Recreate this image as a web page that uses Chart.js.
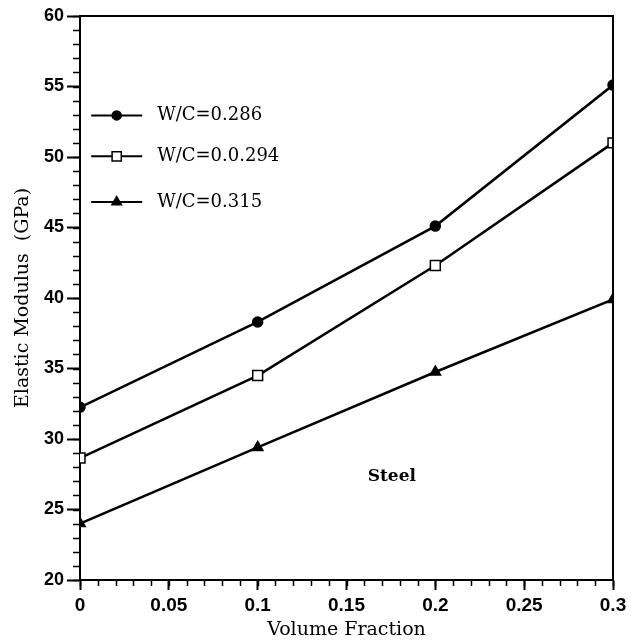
<!DOCTYPE html>
<html>
<head>
<meta charset="utf-8">
<script src="https://cdn.jsdelivr.net/npm/chart.js@4"></script>
<style>
  html, body { margin: 0; padding: 0; background: #fff; }
  #wrap { width: 640px; height: 644px; position: relative; }
</style>
</head>
<body>
<div id="wrap"><canvas id="c" width="640" height="644"></canvas></div>
<script>
// ---- data ----
const volumeFraction = [0, 0.1, 0.2, 0.3];
const seriesLabels = ['W/C=0.286', 'W/C=0.0.294', 'W/C=0.315'];
const wc0286 = [32.25, 38.3, 45.1, 55.1];
const wc0294 = [28.65, 34.5, 42.3, 51.0];
const wc0315 = [24.0, 29.4, 34.75, 39.9];
const xTickLabels = ['0', '0.05', '0.1', '0.15', '0.2', '0.25', '0.3'];
const yTickLabels = ['20', '25', '30', '35', '40', '45', '50', '55', '60'];
const xTitle = 'Volume Fraction';
const yTitle = 'Elastic Modulus  (GPa)';
const annotationText = 'Steel';
const xMinorStep = 0.01;
const yMinorStep = 1;

const serif = '"DejaVu Serif", "Liberation Serif", serif';
const sans = '"Liberation Sans", Arial, sans-serif';

function toPoints(ys) { return volumeFraction.map((x, i) => ({ x: x, y: ys[i] })); }

const styles = [
  { pointStyle: 'circle', radius: 5, fill: '#000' },
  { pointStyle: 'rect', radius: 7, fill: '#fff' },
  { pointStyle: 'triangle', radius: 6, fill: '#000' }
];
const seriesData = [wc0286, wc0294, wc0315];

const datasets = seriesData.map((ys, i) => ({
  label: seriesLabels[i],
  data: toPoints(ys),
  borderColor: '#000',
  borderWidth: 2.5,
  pointStyle: styles[i].pointStyle,
  pointRadius: styles[i].radius,
  pointBackgroundColor: styles[i].fill,
  pointBorderColor: '#000',
  pointBorderWidth: 1.5,
  tension: 0,
  fill: false
}));

const decor = {
  id: 'decor',
  afterDraw(chart) {
    const ctx = chart.ctx;
    const a = chart.chartArea;
    const xs = chart.scales.x, ys = chart.scales.y;
    ctx.save();
    // frame (top, right)
    ctx.strokeStyle = '#000';
    ctx.lineWidth = 2;
    ctx.beginPath();
    ctx.moveTo(a.left, a.top);
    ctx.lineTo(a.right, a.top);
    ctx.lineTo(a.right, a.bottom);
    ctx.stroke();
    // minor ticks
    ctx.lineWidth = 1.5;
    ctx.beginPath();
    for (let v = xs.min; v <= xs.max + 1e-9; v += xMinorStep) {
      const px = Math.round(xs.getPixelForValue(v)) + 0.5;
      ctx.moveTo(px, a.bottom);
      ctx.lineTo(px, a.bottom + 6);
    }
    for (let v = ys.min; v <= ys.max + 1e-9; v += yMinorStep) {
      const py = Math.round(ys.getPixelForValue(v)) + 0.5;
      ctx.moveTo(a.left, py);
      ctx.lineTo(a.left - 7, py);
    }
    ctx.stroke();
    // legend
    const legX0 = xs.getPixelForValue(0.0063), legX1 = xs.getPixelForValue(0.0350);
    const legYs = [52.95, 50.05, 46.8];
    chart.data.datasets.forEach((ds, i) => {
      const y = ys.getPixelForValue(legYs[i]);
      ctx.strokeStyle = '#000';
      ctx.lineWidth = 2;
      ctx.beginPath();
      ctx.moveTo(legX0, y);
      ctx.lineTo(legX1, y);
      ctx.stroke();
      const mx = (legX0 + legX1) / 2;
      ctx.fillStyle = styles[i].fill;
      ctx.strokeStyle = '#000';
      ctx.lineWidth = 1.5;
      Chart.helpers.drawPoint(ctx, { pointStyle: styles[i].pointStyle, radius: styles[i].radius - 0.5, borderWidth: 1.5 }, mx, y);
      ctx.fillStyle = '#000';
      ctx.font = '18px ' + serif;
      ctx.textAlign = 'left';
      ctx.textBaseline = 'middle';
      ctx.fillText(ds.label, legX1 + 15, y);
    });
    // annotation
    ctx.font = '600 17px ' + serif;
    ctx.textAlign = 'center';
    ctx.textBaseline = 'middle';
    ctx.fillText(annotationText, xs.getPixelForValue(0.1755), ys.getPixelForValue(27.3));
    // axis titles
    ctx.font = '19px ' + serif;
    ctx.fillText(xTitle, (a.left + a.right) / 2, 630);
    ctx.translate(23, (a.top + a.bottom) / 2);
    ctx.rotate(-Math.PI / 2);
    ctx.fillText(yTitle, 0, 0);
    ctx.restore();
  }
};

new Chart(document.getElementById('c'), {
  type: 'line',
  data: { datasets: datasets },
  plugins: [decor],
  options: {
    responsive: false,
    animation: false,
    devicePixelRatio: 1,
    layout: { padding: { left: 0, top: 16, right: 27, bottom: 0 } },
    plugins: { legend: { display: false }, tooltip: { enabled: false } },
    scales: {
      x: {
        type: 'linear',
        min: 0, max: 0.3,
        afterFit(s) { s.height = 64; },
        border: { color: '#000', width: 2 },
        grid: { drawOnChartArea: false, tickLength: 10, tickColor: '#000', tickWidth: 2 },
        ticks: {
          stepSize: 0.05,
          color: '#000',
          padding: 4,
          font: { family: sans, size: 19, weight: 'bold' },
          callback: (v, i) => xTickLabels[i]
        }
      },
      y: {
        min: 20, max: 60,
        afterFit(s) { s.width = 80; },
        border: { color: '#000', width: 2 },
        grid: { drawOnChartArea: false, tickLength: 13, tickColor: '#000', tickWidth: 2 },
        ticks: {
          stepSize: 5,
          color: '#000',
          padding: 3,
          font: { family: sans, size: 18, weight: 'bold' },
          callback: (v, i) => yTickLabels[i]
        }
      }
    }
  }
});
</script>
</body>
</html>
